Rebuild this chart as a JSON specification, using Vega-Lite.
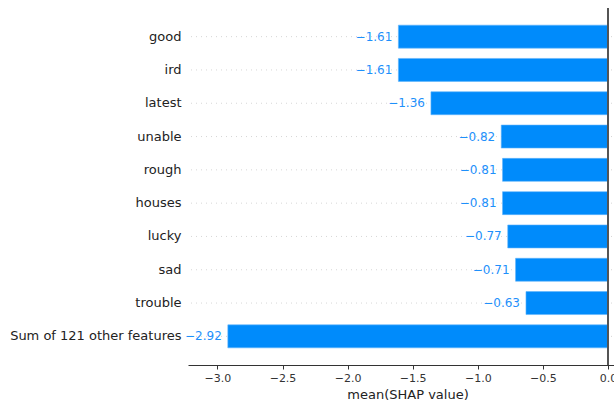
{
  "$schema": "https://vega.github.io/schema/vega-lite/v6.json",
  "autosize": {"type": "none"},
  "padding": {"left": 188, "top": 8, "right": 0, "bottom": 37},
  "width": 439,
  "height": 357,
  "config": {"view": {"stroke": null}, "font": "DejaVu Sans"},
  "data": {
    "values": [
      {"feature": "good", "v": -1.61},
      {"feature": "ird", "v": -1.61},
      {"feature": "latest", "v": -1.36},
      {"feature": "unable", "v": -0.82},
      {"feature": "rough", "v": -0.81},
      {"feature": "houses", "v": -0.81},
      {"feature": "lucky", "v": -0.77},
      {"feature": "sad", "v": -0.71},
      {"feature": "trouble", "v": -0.63},
      {"feature": "Sum of 121 other features", "v": -2.92}
    ]
  },
  "layer": [
    {
      "mark": {"type": "rule", "stroke": "#cccccc", "strokeWidth": 0.8, "strokeDash": [1, 4]},
      "encoding": {
        "y": {
          "field": "feature",
          "type": "nominal",
          "sort": null,
          "scale": {"paddingInner": 0.31, "paddingOuter": 0.515},
          "axis": {
            "title": null,
            "domain": false,
            "ticks": false,
            "grid": false,
            "labelFontSize": 13,
            "labelColor": "#222222",
            "labelPadding": 7,
            "labelFont": "DejaVu Sans"
          }
        }
      }
    },
    {
      "mark": {"type": "bar", "color": "#008bfb", "stroke": "#5fb3fc", "strokeWidth": 0.6},
      "encoding": {
        "y": {"field": "feature", "type": "nominal", "sort": null},
        "x": {
          "field": "v",
          "type": "quantitative",
          "scale": {"domain": [-3.226, 0.146], "nice": false, "zero": false},
          "axis": {
            "values": [-3, -2.5, -2, -1.5, -1, -0.5, 0],
            "labelExpr": "replace(format(datum.value, '.1f'), '-', '\u2212')",
            "title": "mean(SHAP value)",
            "titleFontSize": 13,
            "titleFontWeight": "normal",
            "titleColor": "#222222",
            "titlePadding": 5,
            "labelFontSize": 11,
            "labelColor": "#333333",
            "labelPadding": 3,
            "tickSize": 4,
            "tickColor": "#333333",
            "domainColor": "#333333",
            "grid": false,
            "labelFont": "DejaVu Sans",
            "titleFont": "DejaVu Sans"
          }
        },
        "x2": {"datum": 0}
      }
    },
    {
      "mark": {"type": "rule", "stroke": "#555555", "strokeWidth": 1.2},
      "encoding": {"x": {"datum": 0, "type": "quantitative"}}
    },
    {
      "mark": {"type": "text", "align": "right", "baseline": "middle", "dx": -6, "fontSize": 12, "color": "#1e90fb", "font": "DejaVu Sans"},
      "encoding": {
        "y": {"field": "feature", "type": "nominal", "sort": null},
        "x": {"field": "v", "type": "quantitative"},
        "text": {"field": "v", "type": "quantitative", "format": ".2f"}
      }
    }
  ]
}
